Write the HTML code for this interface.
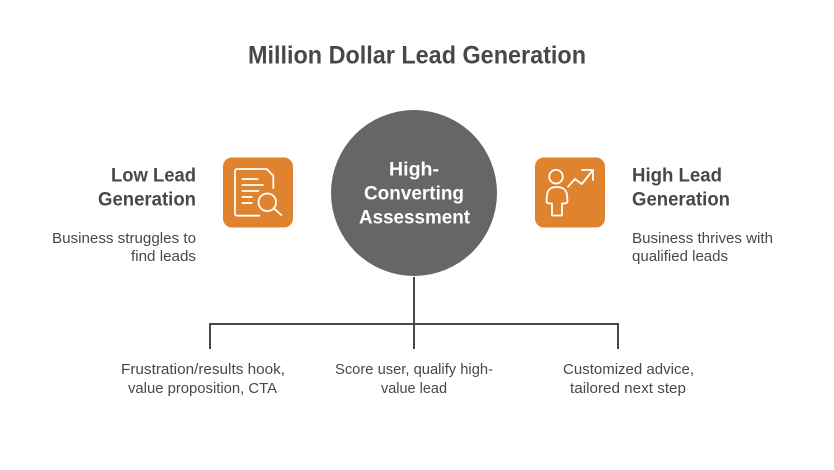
<!DOCTYPE html>
<html><head><meta charset="utf-8"><style>
html,body{margin:0;padding:0;background:#fff;width:834px;height:470px;overflow:hidden}
svg{display:block}
text{font-family:"Liberation Sans",sans-serif;fill:#484848}
.h{font-weight:700;font-size:19.6px}
.d{font-size:14.7px}
</style></head><body>
<svg width="834" height="470" viewBox="0 0 834 470">
<rect width="834" height="470" fill="#fff"/>
<text x="248" y="63.300" font-size="24.600" font-weight="700" textLength="338" lengthAdjust="spacingAndGlyphs">Million Dollar Lead Generation</text>

<circle cx="414" cy="193" r="83" fill="#666"/>
<text x="389" y="175.500" class="h" style="fill:#fff" textLength="50" lengthAdjust="spacingAndGlyphs">High-</text>
<text x="364" y="199.500" class="h" style="fill:#fff" textLength="100" lengthAdjust="spacingAndGlyphs">Converting</text>
<text x="359" y="223.500" class="h" style="fill:#fff" textLength="111" lengthAdjust="spacingAndGlyphs">Assessment</text>

<rect x="223" y="157.500" width="70" height="70" rx="9" fill="#e0832f"/>
<g fill="none" stroke="#fff" stroke-width="1.800" stroke-linecap="round" stroke-linejoin="round">
<path d="M259.300 215.700H237a2 2 0 0 1-2-2V171a2 2 0 0 1 2-2h29.700l6.600 6.700V188"/>
<path d="M242.300 179h15.400M242.300 185h20.700M242.300 191h16M242.300 197h9.500M242.300 203h9.500"/>
<circle cx="267.300" cy="202.300" r="8.800"/>
<path d="M273.800 208.300l7.500 6.700"/>
</g>

<rect x="535" y="157.500" width="70" height="70" rx="9" fill="#e0832f"/>
<g fill="none" stroke="#fff" stroke-width="1.800" stroke-linecap="round" stroke-linejoin="round">
<circle cx="556" cy="176.700" r="6.800"/>
<path d="M556.800 187c-5.500 0-9.300 2.500-9.800 8l-.5 6c0 2 1 2.500 5.500 2.500v12h10v-12c4.500 0 5.500-.5 5.500-2.500l-.5-6c-.5-5.500-4.700-8-10.200-8z"/>
<path d="M568 186.700l7-7.700 6.700 5 11.300-14M582 170h11v10"/>
</g>

<text x="111" y="181.500" class="h" textLength="85" lengthAdjust="spacingAndGlyphs">Low Lead</text>
<text x="98" y="205.500" class="h" textLength="98" lengthAdjust="spacingAndGlyphs">Generation</text>
<text x="52" y="243" class="d" textLength="144" lengthAdjust="spacingAndGlyphs">Business struggles to</text>
<text x="131" y="261" class="d" textLength="65" lengthAdjust="spacingAndGlyphs">find leads</text>

<text x="632" y="181.500" class="h" textLength="90" lengthAdjust="spacingAndGlyphs">High Lead</text>
<text x="632" y="205.500" class="h" textLength="98" lengthAdjust="spacingAndGlyphs">Generation</text>
<text x="632" y="243" class="d" textLength="141" lengthAdjust="spacingAndGlyphs">Business thrives with</text>
<text x="632" y="261" class="d" textLength="96" lengthAdjust="spacingAndGlyphs">qualified leads</text>

<path d="M414 277V349M210 349V324H618V349" fill="none" stroke="#484848" stroke-width="2"/>

<text x="121" y="374" class="d" textLength="164" lengthAdjust="spacingAndGlyphs">Frustration/results hook,</text>
<text x="128" y="393" class="d" textLength="149" lengthAdjust="spacingAndGlyphs">value proposition, CTA</text>
<text x="335" y="374" class="d" textLength="158" lengthAdjust="spacingAndGlyphs">Score user, qualify high-</text>
<text x="381" y="393" class="d" textLength="66" lengthAdjust="spacingAndGlyphs">value lead</text>
<text x="563" y="374" class="d" textLength="131" lengthAdjust="spacingAndGlyphs">Customized advice,</text>
<text x="570" y="393" class="d" textLength="116" lengthAdjust="spacingAndGlyphs">tailored next step</text>
</svg>
</body></html>
